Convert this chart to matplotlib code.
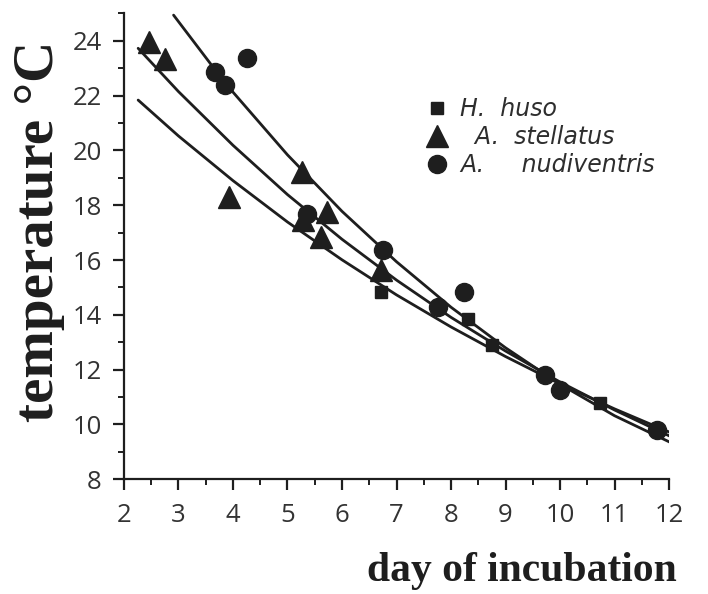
import matplotlib
matplotlib.use('agg')
import matplotlib.pyplot as plt
from matplotlib.ticker import MultipleLocator

# points
husoDay = [6.71, 8.32, 8.75, 10.73]
husoTemp = [14.85, 13.84, 12.90, 10.77]

stellatusDay = [2.46, 2.75, 3.93, 5.26, 5.28, 5.72, 5.62, 6.72]
stellatusTemp = [23.97, 23.33, 18.31, 19.23, 17.45, 17.77, 16.85, 15.64]

nudiventrisDay = [3.67, 3.85, 4.25, 5.36, 6.76, 7.77, 8.23, 9.72, 10.0, 11.77]
nudiventrisTemp = [22.88, 22.39, 23.36, 17.70, 16.37, 14.30, 14.85, 11.81, 11.26, 9.80]

# fitted curves, read at a few days
fit1Day = [2.91, 3.67, 4, 5, 6, 7, 8, 9, 10, 11, 12.02]
fit1Temp = [24.94, 22.95, 22.13, 19.84, 17.78, 15.94, 14.28, 12.80, 11.47, 10.32, 9.35]
fit2Day = [2.26, 3, 4, 5, 6, 7, 8, 9, 10, 11, 12.02]
fit2Temp = [23.73, 22.15, 20.19, 18.39, 16.76, 15.27, 13.91, 12.68, 11.55, 10.53, 9.57]
fit3Day = [2.26, 3, 4, 5, 6, 7, 8, 9, 10, 11, 12.02]
fit3Temp = [21.84, 20.53, 18.90, 17.39, 16.01, 14.73, 13.56, 12.48, 11.48, 10.57, 9.71]

ink = '#1e1e1e'
tickFont = 'Open Sans'

fig = plt.figure(figsize=(7.08, 5.94), dpi=100)
ax = fig.add_axes([0.1751, 0.1931, 0.945 - 0.1751, 0.9773 - 0.1931])

for d, t in [(fit1Day, fit1Temp), (fit2Day, fit2Temp), (fit3Day, fit3Temp)]:
    ax.plot(d, t, '-', color=ink, lw=2.0, solid_capstyle='round')

ax.plot(husoDay, husoTemp, 's', color=ink, ms=9, ls='none', label='H.  huso')
ax.plot(stellatusDay, stellatusTemp, '^', color=ink, ms=16, ls='none', label='  A.  stellatus')
ax.plot(nudiventrisDay, nudiventrisTemp, 'o', color=ink, ms=13, ls='none', label='A.     nudiventris')

ax.set_xlim(2, 12)
ax.set_ylim(8, 25)
ax.xaxis.set_major_locator(MultipleLocator(1))
ax.xaxis.set_minor_locator(MultipleLocator(0.5))
ax.yaxis.set_major_locator(MultipleLocator(2))
ax.yaxis.set_minor_locator(MultipleLocator(1))

for s in ['top', 'right']:
    ax.spines[s].set_visible(False)
for s in ['left', 'bottom']:
    ax.spines[s].set_linewidth(1.6)
    ax.spines[s].set_color(ink)

ax.tick_params(which='major', direction='out', length=8, width=1.6, color=ink)
ax.tick_params(which='minor', direction='out', length=4, width=1.4, color=ink)
ax.tick_params(axis='x', which='major', pad=9)
ax.tick_params(axis='y', which='major', pad=8)
for lab in ax.get_xticklabels() + ax.get_yticklabels():
    lab.set_fontfamily(tickFont)
    lab.set_fontsize(18.5)
    lab.set_color('#333333')

ax.set_ylabel(u'temperature °C', fontfamily='Liberation Serif', fontweight='bold',
              fontsize=41, color=ink)
ax.yaxis.set_label_coords(-0.108, 0.533)
fig.text(677 / 708, 0.022, 'day of incubation', ha='right', va='baseline',
         fontfamily='Liberation Serif', fontweight='bold', fontsize=30, color=ink)

leg = ax.legend(loc='upper left', bbox_to_anchor=(425 / 708, 1 - 97 / 594),
                bbox_transform=fig.transFigure, frameon=False,
                prop={'family': 'DejaVu Sans', 'style': 'italic', 'size': 17},
                handletextpad=0.5, labelspacing=0.18, handlelength=1.0,
                borderpad=0, borderaxespad=0)
for t in leg.get_texts():
    t.set_color('#2e2e2e')

fig.savefig('out.png', dpi=100)
